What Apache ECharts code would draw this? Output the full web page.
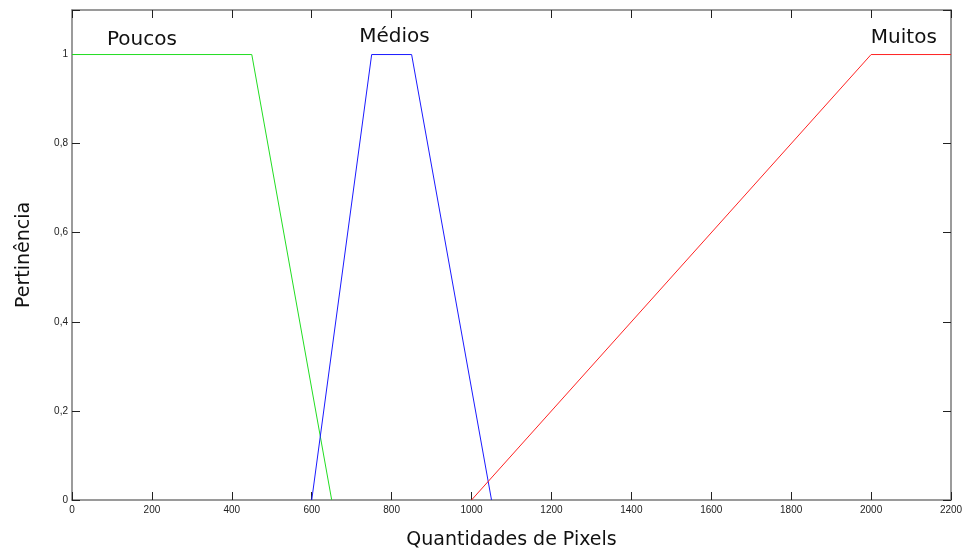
<!DOCTYPE html>
<html><head><meta charset="utf-8">
<script src="https://cdn.jsdelivr.net/npm/echarts@6/dist/echarts.min.js"></script>
<style>html,body{margin:0;padding:0;background:#fff}#c{width:962px;height:549px}</style>
</head><body><div id="c"></div>
<script>
const poucosX = [0, 450, 650];
const poucosY = [1, 1, 0];
const mediosX = [600, 750, 850, 1050];
const mediosY = [0, 1, 1, 0];
const muitosX = [1000, 2000, 2200];
const muitosY = [0, 1, 1];
const setNames = ['Poucos', 'Médios', 'Muitos'];
const labelAnchors = [[175, 1.034], [807, 1.04], [2082, 1.037]];
const xName = 'Quantidades de Pixels';
const yName = 'Pertinência';

const zip = (xs, ys) => xs.map((x, i) => [x, ys[i]]);
const chart = echarts.init(document.getElementById('c'), null, {renderer: 'canvas'});
const axisLine = {show: true, onZero: false, lineStyle: {color: '#7a7a7a', width: 1.5}};
const tick = {show: true, inside: true, length: 8, lineStyle: {color: '#222'}};
const fmtY = v => (v > 1.05 ? '' : String(Math.round(v * 10) / 10).replace('.', ','));
chart.setOption({
  animation: false,
  backgroundColor: '#fff',
  grid: {left: 72, right: 11, top: 10, bottom: 49, containLabel: false, outerBoundsMode: 'none'},
  xAxis: [
    {type: 'value', min: 0, max: 2200, interval: 200, position: 'bottom',
      name: xName, nameLocation: 'middle', nameGap: 31,
      nameTextStyle: {fontFamily: 'DejaVu Sans', fontSize: 19, color: '#111'},
      axisLine, axisTick: tick, splitLine: {show: false},
      axisLabel: {fontFamily: 'Liberation Sans', fontSize: 10, color: '#222', margin: 5, formatter: v => String(v)}},
    {type: 'value', min: 0, max: 2200, interval: 200, position: 'top',
      axisLine, axisTick: tick, splitLine: {show: false}, axisLabel: {show: false}}
  ],
  yAxis: [
    {type: 'value', min: 0, max: 1.1, interval: 0.2, position: 'left',
      name: yName, nameLocation: 'middle', nameGap: 38,
      nameTextStyle: {fontFamily: 'DejaVu Sans', fontSize: 19, color: '#111'},
      axisLine, axisTick: tick, splitLine: {show: false},
      axisLabel: {fontFamily: 'Liberation Sans', fontSize: 10, color: '#222', margin: 4, formatter: fmtY}},
    {type: 'value', min: 0, max: 1.1, interval: 0.2, position: 'right',
      axisLine, axisTick: tick, splitLine: {show: false}, axisLabel: {show: false}}
  ],
  series: [
    {type: 'line', data: zip(poucosX, poucosY), symbol: 'none', lineStyle: {color: '#22dd22', width: 1}},
    {type: 'line', data: zip(mediosX, mediosY), symbol: 'none', lineStyle: {color: '#1a1aff', width: 1}},
    {type: 'line', data: zip(muitosX, muitosY), symbol: 'none', lineStyle: {color: '#ff2222', width: 1}}
  ]
});
chart.setOption({
  graphic: setNames.map((name, i) => {
    const p = chart.convertToPixel({xAxisIndex: 0, yAxisIndex: 0}, labelAnchors[i]);
    return {type: 'text', x: p[0], y: p[1], silent: true,
      style: {text: name, fontFamily: 'DejaVu Sans', fontSize: 20, fill: '#111', textAlign: 'center', textVerticalAlign: 'middle'}};
  })
});
</script></body></html>
